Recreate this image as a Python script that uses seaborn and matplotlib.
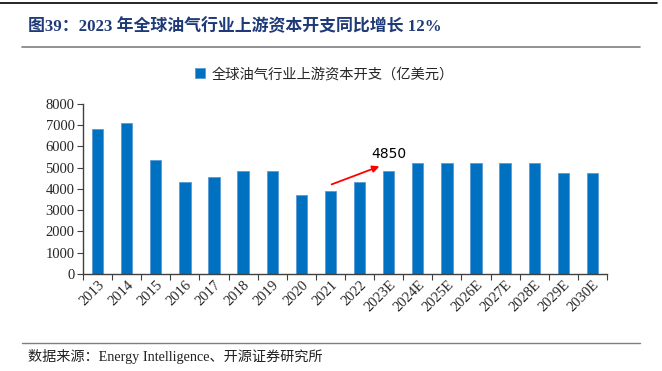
import numpy as np
import pandas as pd
import matplotlib
matplotlib.use("Agg")
import matplotlib.pyplot as plt
from matplotlib.lines import Line2D
import seaborn as sns

# --- Data ---
years = ["2013", "2014", "2015", "2016", "2017", "2018", "2019", "2020", "2021",
         "2022", "2023E", "2024E", "2025E", "2026E", "2027E", "2028E", "2029E", "2030E"]
capex = [6800, 7100, 5350, 4350, 4550, 4850, 4850, 3720, 3900,
         4350, 4850, 5200, 5200, 5200, 5200, 5200, 4750, 4730]
series_name = "全球油气行业上游资本开支（亿美元）"
title_text = "图39：2023 年全球油气行业上游资本开支同比增长 12%"
source_text = "数据来源：Energy Intelligence、开源证券研究所"
note_value = "4850"

df = pd.DataFrame({"year": years, "capex": capex})

# --- Style ---
sns.set_theme(style="white")
plt.rcParams["font.family"] = ["Liberation Serif", "Noto Sans CJK SC"]
BLUE = "#0070C0"
TITLE_BLUE = "#1F3A78"

fig = plt.figure(figsize=(6.62, 3.71), dpi=100)
ax = fig.add_axes([0.1254, 0.2615, 0.7916, 0.4582])

sns.barplot(data=df, x="year", y="capex", color=BLUE, saturation=1, width=0.39,
            edgecolor="#5B9BD5", linewidth=0.6, ax=ax)

ax.set_xlim(-0.5, len(years) - 0.5)
ax.set_ylim(0, 8000)
ax.set_yticks(np.arange(0, 8001, 1000))
ax.set_xlabel("")
ax.set_ylabel("")
sns.despine(ax=ax)
for side in ["left", "bottom"]:
    ax.spines[side].set_color("#404040")
    ax.spines[side].set_linewidth(1.0)

ax.tick_params(axis="y", direction="out", length=4, width=0.8, color="#404040",
               labelsize=10.5, pad=2, left=True)
ax.tick_params(axis="x", which="major", length=0, labelsize=10.5, pad=3)
ax.set_xticks(np.arange(-0.5, len(years), 1), minor=True)
ax.tick_params(axis="x", which="minor", direction="out", length=4, width=0.8,
               color="#404040", bottom=True)
for lab in ax.get_xticklabels():
    lab.set_rotation(45)
    lab.set_ha("right")
    lab.set_rotation_mode("anchor")

# legend above plot
fig.legend(handles=[ax.patches[0]], labels=[series_name], loc="center",
           bbox_to_anchor=(0.49, 0.80), frameon=False, handlelength=0.7,
           handleheight=0.7, handletextpad=0.5,
           prop={"family": ["Noto Sans CJK SC"], "size": 10.3})

# annotation arrow
ax.annotate("", xy=(9.77, 5110), xytext=(7.95, 4170),
            arrowprops=dict(arrowstyle="-|>", color="#FF0000", lw=1.3,
                            mutation_scale=10))
ax.text(9.99, 5650, note_value, ha="center", va="center", fontsize=10,
        family=["DejaVu Sans"], color="black")

# header / footer decorations
fig.add_artist(Line2D([0.0, 0.993], [1 - 3 / 371] * 2, color="black", lw=1.2))
fig.add_artist(Line2D([0.033, 0.967], [1 - 47 / 371] * 2, color="#7F7F7F", lw=1.2))
fig.add_artist(Line2D([0.033, 0.967], [1 - 343 / 371] * 2, color="#7F7F7F", lw=1.0))

fig.text(0.042, 1 - 27 / 371, title_text, ha="left", va="center", fontsize=12.2,
         fontweight="bold", color=TITLE_BLUE,
         family=["Liberation Serif", "Noto Sans CJK SC"])
fig.text(0.042, 1 - 356 / 371, source_text, ha="left", va="center", fontsize=10.2,
         color="#222222", family=["Liberation Serif", "Noto Sans CJK SC"])

fig.savefig("out.png", dpi=100)
